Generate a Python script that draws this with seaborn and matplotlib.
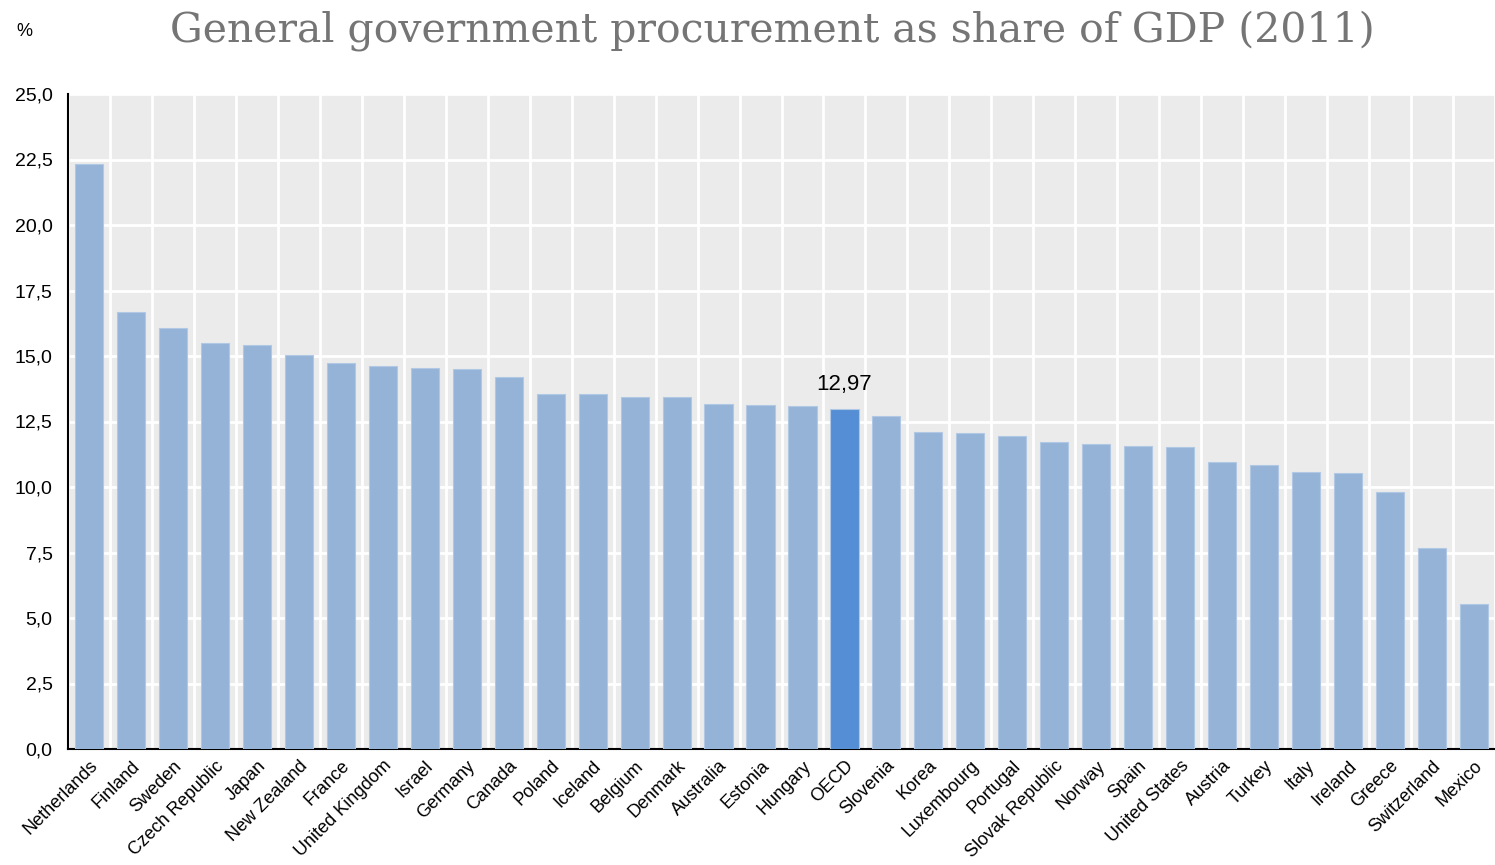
import pandas as pd
import matplotlib.pyplot as plt
import matplotlib.ticker as mticker
import seaborn as sns

countries = ['Netherlands', 'Finland', 'Sweden', 'Czech Republic', 'Japan', 'New Zealand',
             'France', 'United Kingdom', 'Israel', 'Germany', 'Canada', 'Poland', 'Iceland',
             'Belgium', 'Denmark', 'Australia', 'Estonia', 'Hungary', 'OECD', 'Slovenia',
             'Korea', 'Luxembourg', 'Portugal', 'Slovak Republic', 'Norway', 'Spain',
             'United States', 'Austria', 'Turkey', 'Italy', 'Ireland', 'Greece',
             'Switzerland', 'Mexico']
share = [22.33, 16.68, 16.07, 15.50, 15.42, 15.04, 14.73, 14.62, 14.54, 14.50, 14.20,
         13.55, 13.55, 13.44, 13.43, 13.17, 13.13, 13.09, 12.97, 12.71, 12.10, 12.06,
         11.95, 11.72, 11.64, 11.56, 11.53, 10.95, 10.84, 10.57, 10.53, 9.81, 7.67, 5.53]
yticks = [0, 2.5, 5, 7.5, 10, 12.5, 15, 17.5, 20, 22.5, 25]

df = pd.DataFrame({'country': countries, 'share': share})
df['group'] = ['oecd' if c == 'OECD' else 'country' for c in countries]

sns.set_style('white')
plt.rcParams['font.family'] = ['Liberation Sans Narrow', 'Liberation Sans', 'DejaVu Sans']
plt.rcParams['text.color'] = 'black'
plt.rcParams['xtick.color'] = 'black'
plt.rcParams['ytick.color'] = 'black'

fig = plt.figure(figsize=(14.95, 8.65), dpi=100)
ax = fig.add_axes([68 / 1495, 1 - 749 / 865, 1 - 68 / 1495, (749 - 94) / 865])
ax.set_facecolor('#EBEBEB')

sns.barplot(data=df, x='country', y='share', hue='group', dodge=False, legend=False,
            palette={'country': '#95B3D7', 'oecd': '#558ED5'}, saturation=1, width=0.67,
            edgecolor='#B0C8E4', linewidth=0.8, ax=ax, zorder=3)

ax.set_xlim(-0.5, len(countries) - 0.5)
ax.set_ylim(0, 25)
ax.set_yticks(yticks)
ax.yaxis.set_major_formatter(mticker.FuncFormatter(lambda v, p: f'{v:.1f}'.replace('.', ',')))
ax.set_xticks(range(len(countries)))
ax.set_xticklabels(countries, rotation=45, ha='right', rotation_mode='anchor', fontsize=13)
ax.set_xticks([i + 0.5 for i in range(-1, len(countries))], minor=True)
ax.tick_params(axis='x', which='major', length=0, pad=6)
ax.tick_params(axis='x', which='minor', length=5, width=1.2, color='black', direction='out')
ax.tick_params(axis='y', length=7, width=1.2, color='black', direction='out', labelsize=14, pad=4)
ax.grid(True, axis='y', color='white', linewidth=2, zorder=0)
ax.grid(True, axis='x', which='minor', color='white', linewidth=2, zorder=0)
ax.set_axisbelow(True)
ax.set_xlabel('')
ax.set_ylabel('')

for s in ['top', 'right']:
    ax.spines[s].set_visible(False)
for s in ['left', 'bottom']:
    ax.spines[s].set_color('black')
    ax.spines[s].set_linewidth(1.5)

i = countries.index('OECD')
ax.text(i, share[i] + 0.55, f'{share[i]:.2f}'.replace('.', ','), ha='center', va='bottom',
        fontsize=16)

fig.text(24 / 1495, 1 - 32 / 865, '%', ha='center', va='center', fontsize=13)
fig.text(772 / 1495, 1 - 31 / 865, 'General government procurement as share of GDP (2011)',
         ha='center', va='center', fontsize=29.5, color='#757575',
         family=['DejaVu Serif', 'Liberation Serif'])

fig.savefig('out.png', dpi=100)
